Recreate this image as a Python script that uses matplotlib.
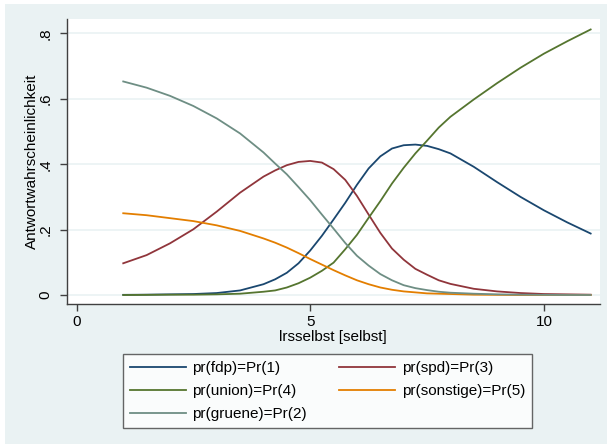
import matplotlib
matplotlib.use("Agg")
import matplotlib.pyplot as plt

plt.rcParams['font.family'] = ['Liberation Sans', 'DejaVu Sans']

# lrsselbst values and predicted probabilities
x = [1, 1.5, 2, 2.5, 3, 3.5, 4, 4.25, 4.5, 4.75, 5, 5.25, 5.5, 5.75, 6, 6.25, 6.5,
     6.75, 7, 7.25, 7.5, 7.75, 8, 8.5, 9, 9.5, 10, 10.5, 11]

pr_fdp = [0.0005, 0.001, 0.002, 0.003, 0.006, 0.014, 0.033, 0.048, 0.068, 0.097, 0.136,
          0.181, 0.231, 0.282, 0.337, 0.387, 0.424, 0.448, 0.458, 0.460, 0.456, 0.446,
          0.433, 0.392, 0.345, 0.300, 0.259, 0.222, 0.188]
pr_spd = [0.097, 0.122, 0.158, 0.201, 0.255, 0.313, 0.362, 0.381, 0.397, 0.407, 0.410,
          0.405, 0.385, 0.352, 0.303, 0.246, 0.190, 0.142, 0.108, 0.080, 0.062, 0.045,
          0.034, 0.019, 0.011, 0.006, 0.003, 0.002, 0.001]
pr_union = [0.0, 0.0005, 0.001, 0.001, 0.002, 0.004, 0.010, 0.014, 0.023, 0.036, 0.053,
            0.074, 0.099, 0.140, 0.184, 0.236, 0.287, 0.341, 0.389, 0.433, 0.472, 0.512,
            0.545, 0.598, 0.648, 0.695, 0.738, 0.776, 0.812]
pr_sonstige = [0.250, 0.244, 0.235, 0.226, 0.213, 0.196, 0.173, 0.160, 0.145, 0.128, 0.110,
               0.093, 0.076, 0.060, 0.045, 0.033, 0.023, 0.016, 0.011, 0.008, 0.005, 0.004,
               0.003, 0.001, 0.0005, 0.0, 0.0, 0.0, 0.0]
pr_gruene = [0.653, 0.634, 0.609, 0.578, 0.540, 0.494, 0.436, 0.402, 0.369, 0.330, 0.290,
             0.246, 0.203, 0.159, 0.120, 0.090, 0.064, 0.045, 0.030, 0.021, 0.015, 0.010,
             0.007, 0.004, 0.002, 0.001, 0.0005, 0.0, 0.0]

labels = ["pr(fdp)=Pr(1)", "pr(spd)=Pr(3)", "pr(union)=Pr(4)",
          "pr(sonstige)=Pr(5)", "pr(gruene)=Pr(2)"]

W, H = 607, 444
fig = plt.figure(figsize=(W / 100, H / 100), dpi=100)
fig.patch.set_facecolor("white")
# stata-like light blue graph region
bg = plt.Rectangle((5 / W, 0), 1, 1 - 4 / H, transform=fig.transFigure,
                   facecolor="#EAF2F3", edgecolor="none", zorder=-10)
fig.patches.append(bg)

ax = fig.add_axes([66.5 / W, 1 - 304 / H, (600 - 66.5) / W, (304 - 19) / H])
ax.set_facecolor("white")

l1, = ax.plot(x, pr_fdp, color="#1a476f", lw=1.3)
l2, = ax.plot(x, pr_spd, color="#90353b", lw=1.3)
l3, = ax.plot(x, pr_union, color="#55752f", lw=1.3)
l4, = ax.plot(x, pr_sonstige, color="#e37e00", lw=1.3)
l5, = ax.plot(x, pr_gruene, color="#6e8e84", lw=1.3)

ax.set_xlim(-0.214, 11.2)
ax.set_ylim(-0.0275, 0.844)
ax.set_xticks([0, 5, 10])
ax.set_yticks([0, 0.2, 0.4, 0.6, 0.8])
ax.set_yticklabels(["0", ".2", ".4", ".6", ".8"], rotation=90, va="center")
ax.yaxis.grid(True, color="#EAF2F3", lw=1.2)
ax.set_axisbelow(True)

for s in ["top", "right"]:
    ax.spines[s].set_visible(False)
for s in ["left", "bottom"]:
    ax.spines[s].set_color("#404040")
    ax.spines[s].set_linewidth(1.0)
ax.tick_params(axis="both", length=5, width=1, color="#404040", labelsize=11)
ax.tick_params(axis="y", pad=5)
ax.tick_params(axis="x", pad=3)

ax.set_xlabel("lrsselbst [selbst]", fontsize=11, labelpad=1)
ax.set_ylabel("Antwortwahrscheinlichkeit", fontsize=11, labelpad=0)

# legend: row-wise order like stata, matplotlib fills column-wise
handles = [l1, l3, l5, l2, l4]
leg_labels = [labels[0], labels[2], labels[4], labels[1], labels[3]]
leg = fig.legend(handles, leg_labels, ncol=2, loc="upper left",
                 bbox_to_anchor=(123 / W, 1 - 354 / H),
                 fontsize=11, frameon=True, fancybox=False,
                 handlelength=3.65, handletextpad=0.45, borderaxespad=0,
                 columnspacing=2.1, labelspacing=0.6, borderpad=0.45)
leg.get_frame().set_edgecolor("#404040")
leg.get_frame().set_linewidth(1.0)

fig.savefig("out.png", dpi=100, facecolor=fig.get_facecolor())
